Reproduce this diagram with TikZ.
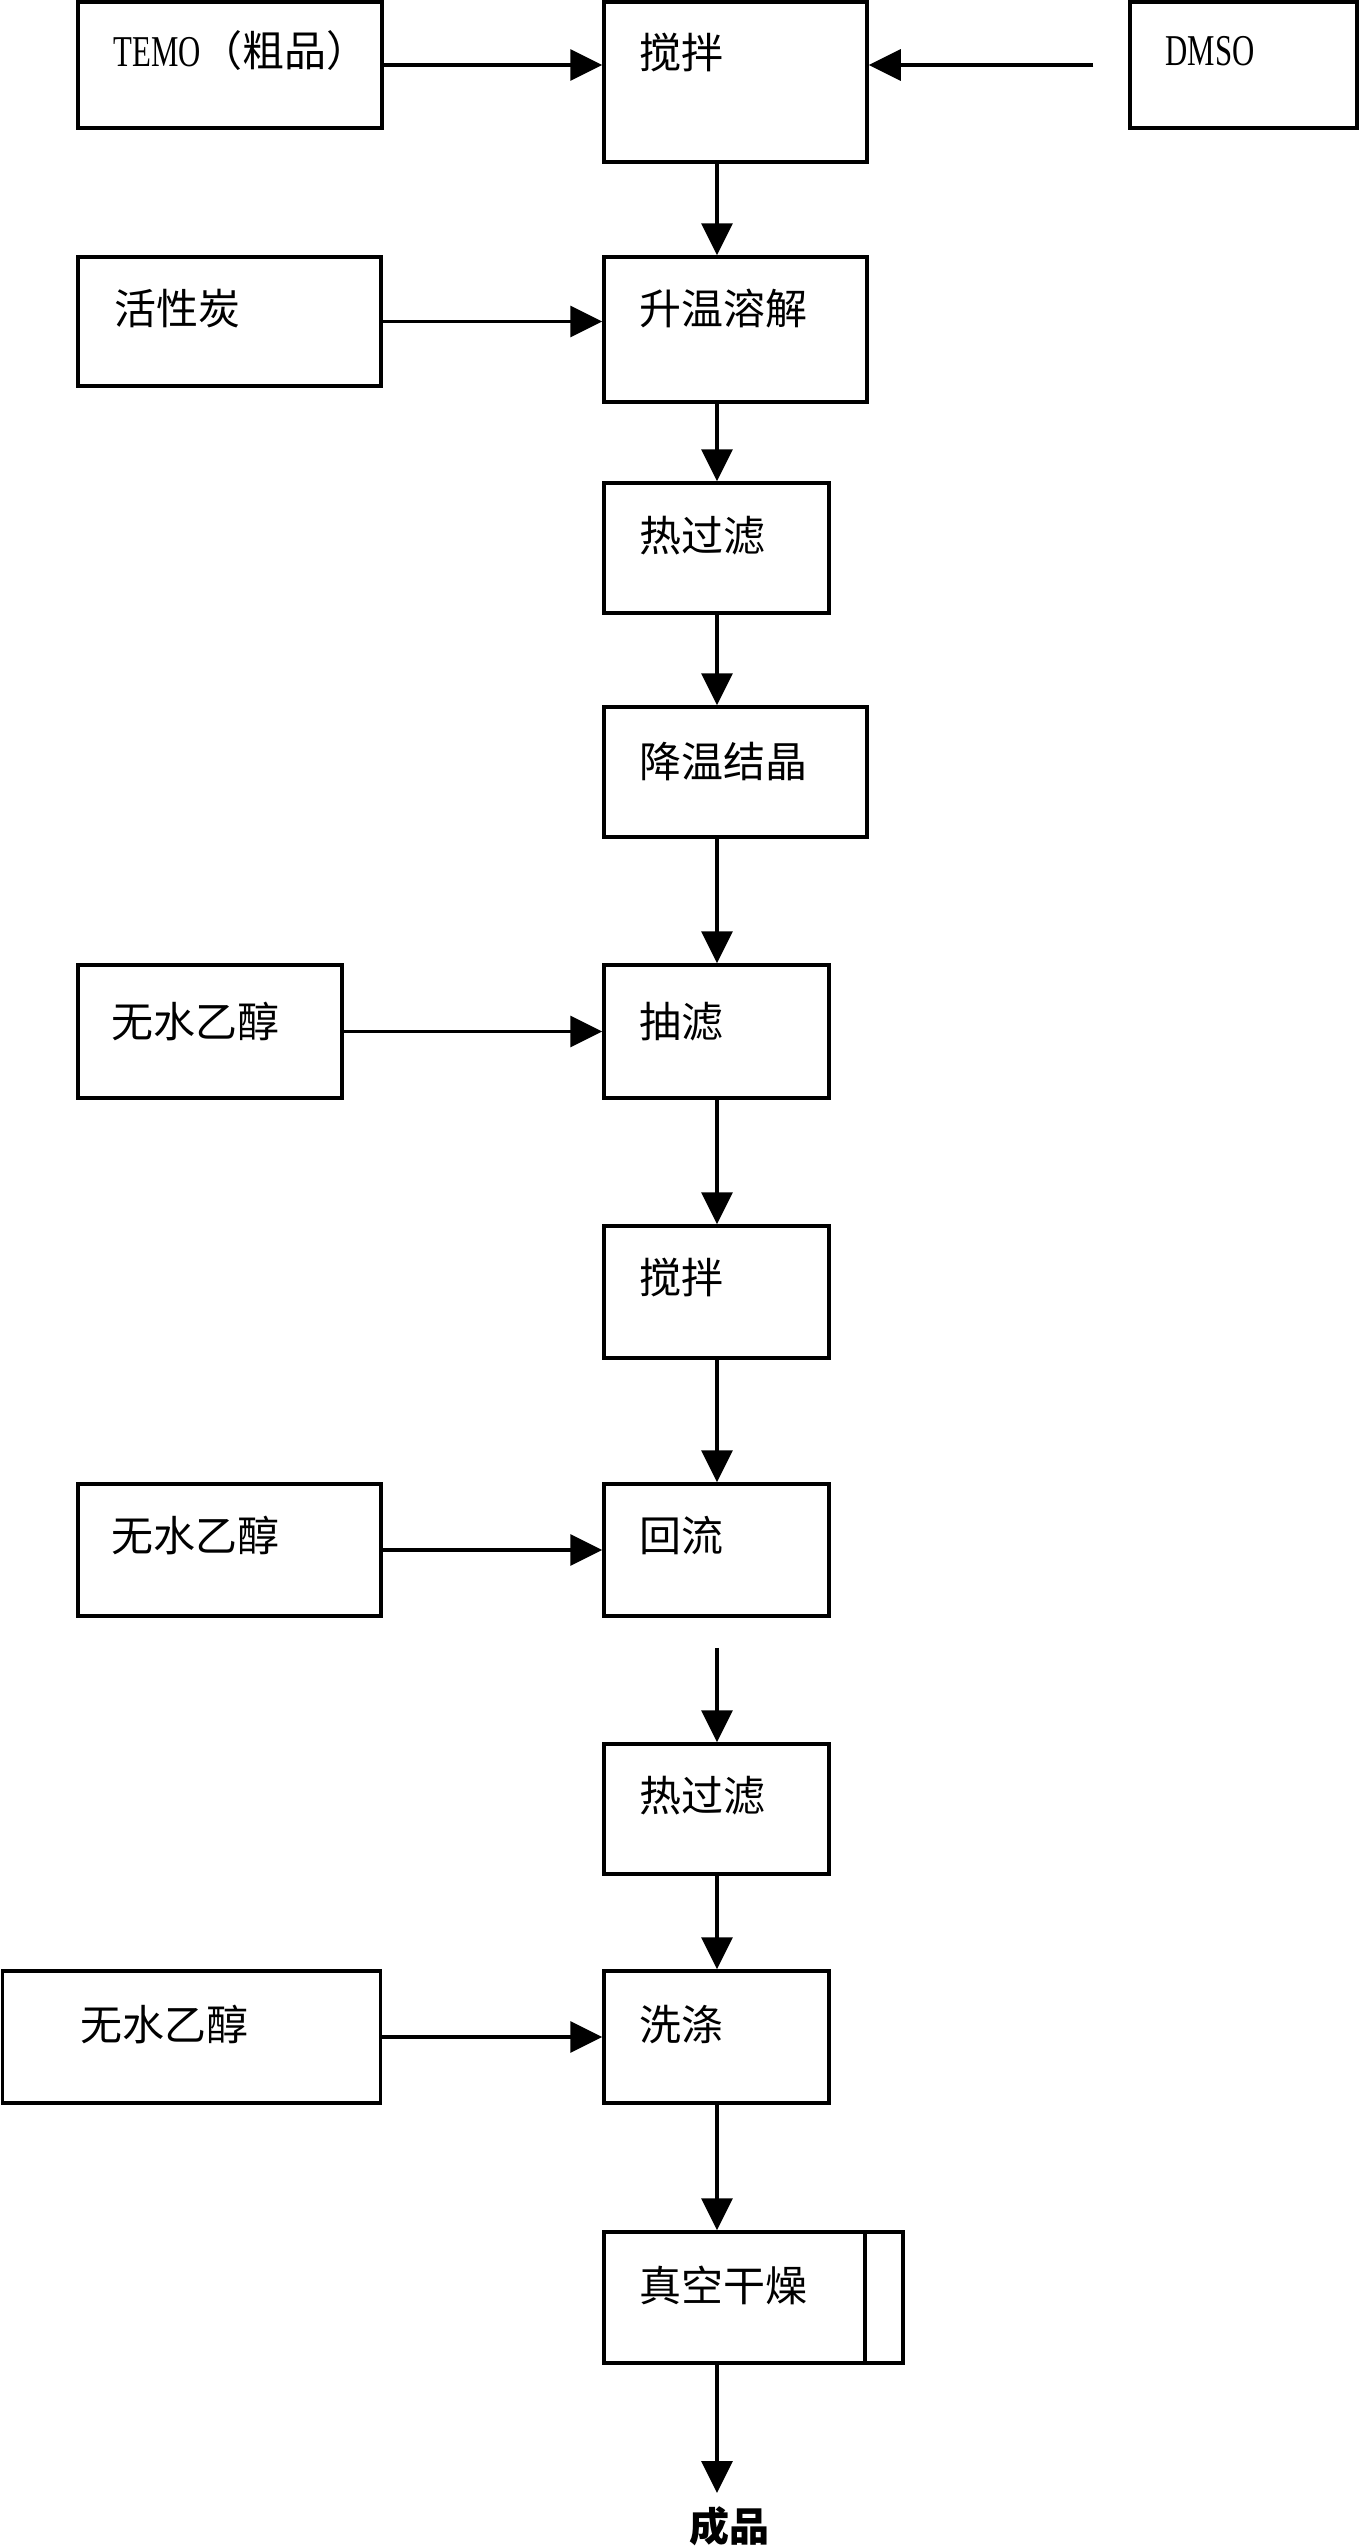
\documentclass[tikz,border=0pt]{standalone}
\usepackage{fontspec}
\setmainfont{Liberation Serif}
\newfontfamily\latc[FakeStretch=0.7]{Liberation Serif}
\newfontfamily\cjk{Noto Sans CJK SC}
\usetikzlibrary{arrows.meta}
\begin{document}
\begin{tikzpicture}[x=0.5pt,y=-0.5pt,
  box/.style={draw, line width=1.75pt, rectangle, inner sep=0pt},
  lbl/.style={anchor=base west, inner sep=0pt, font=\cjk\fontsize{21pt}{25pt}\selectfont},
  latlbl/.style={anchor=base west, inner sep=0pt, font=\latc\fontsize{22pt}{26pt}\selectfont},
  arr/.style={line width=1.6pt, -{Triangle[length=16pt,width=15.5pt]}}]
\fill[white] (0,0) rectangle (1359,2548);
\useasboundingbox (0,0) rectangle (1359,2548);
\coordinate (ax) at (717,0);
\coordinate (dl) at (865,0);
% boxes
\node[box, minimum width=152pt, minimum height=63pt] (temo) at (230,65) {};
\node[box, minimum width=131.5pt, minimum height=80pt] (mix1) at (735.5,82) {};
\node[box, minimum width=113.5pt, minimum height=63pt] (dmso) at (1243.5,65) {};
\node[box, minimum width=151.5pt, minimum height=64.5pt] (carbon) at (229.5,321.5) {};
\node[box, minimum width=131.5pt, minimum height=72.5pt] (dissolve) at (735.5,329.5) {};
\node[box, minimum width=112.5pt, minimum height=65pt] (hf1) at (716.5,548) {};
\node[box, minimum width=131.5pt, minimum height=65pt] (cryst) at (735.5,772) {};
\node[box, minimum width=112.5pt, minimum height=66.5pt] (sf) at (716.5,1031.5) {};
\node[box, minimum width=132pt, minimum height=66.5pt] (eth1) at (210,1031.5) {};
\node[box, minimum width=112.5pt, minimum height=66pt] (mix2) at (716.5,1292) {};
\node[box, minimum width=112.5pt, minimum height=66pt] (reflux) at (716.5,1550) {};
\node[box, minimum width=151.5pt, minimum height=66pt] (eth2) at (229.5,1550) {};
\node[box, minimum width=112.5pt, minimum height=65pt] (hf2) at (716.5,1809) {};
\node[box, minimum width=112.5pt, minimum height=66pt] (wash) at (716.5,2037) {};
\node[box, minimum width=189pt, minimum height=66pt] (eth3) at (191.5,2037) {};
\node[box, minimum width=149.5pt, minimum height=65.5pt] (dry) at (753.5,2297.5) {};
\draw[line width=1.75pt] (dry.north -| dl) -- (dry.south -| dl);
% labels
\node[latlbl] (ttemo) at (113,66) {TEMO\cjk\fontsize{21pt}{25pt}\selectfont（粗品）};
\node[lbl] (tmix1) at (639,68) {搅拌};
\node[latlbl] (tdmso) at (1165,65) {DMSO};
\node[lbl] (tcarbon) at (114,324) {活性炭};
\node[lbl] (tdissolve) at (639,324) {升温溶解};
\node[lbl] (thf1) at (639,551) {热过滤};
\node[lbl] (tcryst) at (639,777) {降温结晶};
\node[lbl] (tsf) at (639,1037) {抽滤};
\node[lbl] (teth1) at (111,1037) {无水乙醇};
\node[lbl] (tmix2) at (639,1293) {搅拌};
\node[lbl] (treflux) at (639,1551) {回流};
\node[lbl] (teth2) at (111,1551) {无水乙醇};
\node[lbl] (thf2) at (639,1811) {热过滤};
\node[lbl] (twash) at (639,2040) {洗涤};
\node[lbl] (teth3) at (80,2040) {无水乙醇};
\node[lbl] (tdry) at (639,2301) {真空干燥};
\node[anchor=north, inner sep=0pt, text height=18pt, text depth=0pt,
      font=\cjk\bfseries\fontsize{20pt}{24pt}\selectfont] (prod) at (729,2505) {成品};
% connectors
\draw[arr] (temo.east) -- (temo.east -| mix1.west);
\draw[arr, shorten <=17.5pt] (dmso.west) -- (dmso.west -| mix1.east);
\draw[arr] (mix1.south -| ax) -- (dissolve.north -| ax);
\draw[arr] (carbon.east) -- (carbon.east -| dissolve.west);
\draw[arr] (dissolve.south -| ax) -- (hf1.north -| ax);
\draw[arr] (hf1.south -| ax) -- (cryst.north -| ax);
\draw[arr] (cryst.south -| ax) -- (sf.north -| ax);
\draw[arr] (eth1.east) -- (sf.west);
\draw[arr] (sf.south -| ax) -- (mix2.north -| ax);
\draw[arr] (mix2.south -| ax) -- (reflux.north -| ax);
\draw[arr] (eth2.east) -- (reflux.west);
\draw[arr, shorten <=15pt] (reflux.south -| ax) -- (hf2.north -| ax);
\draw[arr] (hf2.south -| ax) -- (wash.north -| ax);
\draw[arr] (eth3.east) -- (wash.west);
\draw[arr] (wash.south -| ax) -- (dry.north -| ax);
\draw[arr, shorten >=6pt] (dry.south -| ax) -- (prod.north -| ax);
\end{tikzpicture}
\end{document}
